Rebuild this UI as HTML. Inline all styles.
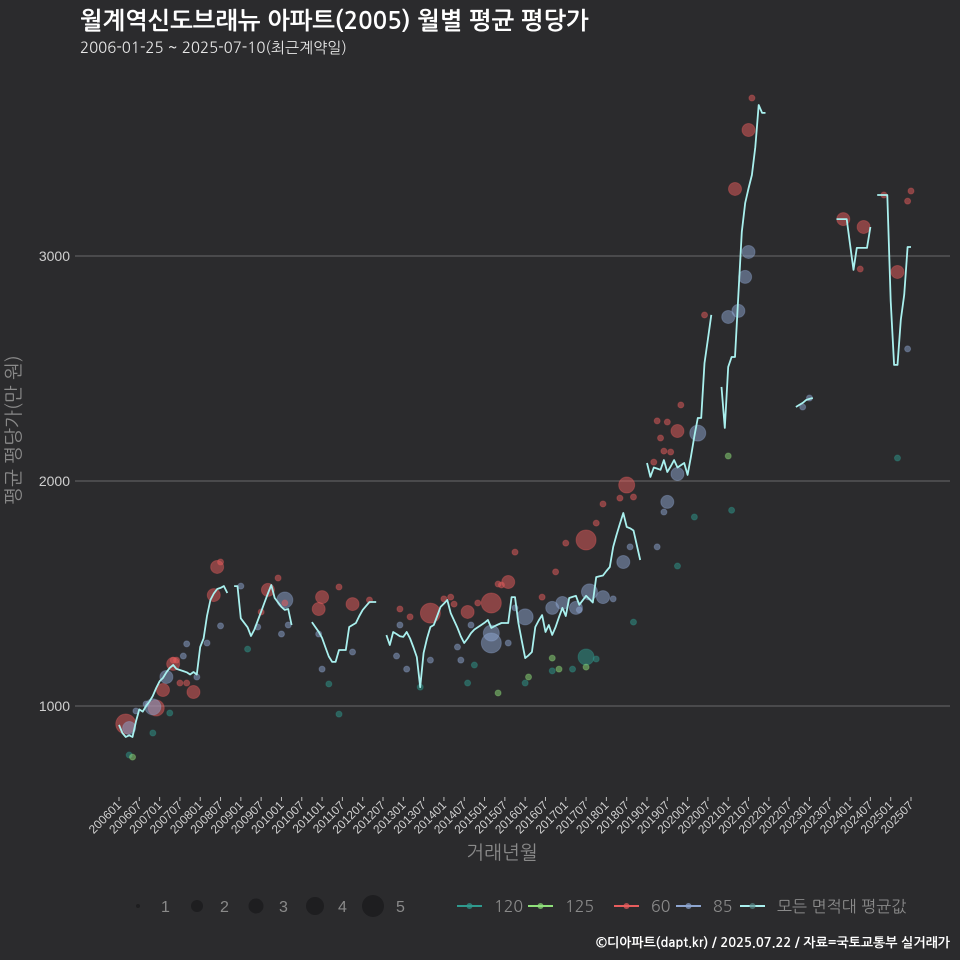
<!DOCTYPE html>
<html><head><meta charset="utf-8"><style>
html,body{margin:0;padding:0;background:#2b2b2d;}
svg{display:block;font-family:"Liberation Sans","NanumGothic","Noto Sans CJK KR",sans-serif;}
.kr{font-family:"NanumGothic","Noto Sans CJK KR","Liberation Sans",sans-serif;}
</style></head><body>
<svg id="chart" width="960" height="960" viewBox="0 0 960 960">
<rect x="0" y="0" width="960" height="960" fill="#2b2b2d"/>
<text class="kr" x="80" y="29" fill="#ffffff" font-size="24" font-weight="bold">월계역신도브래뉴 아파트(2005) 월별 평균 평당가</text>
<text class="kr" x="80" y="53" fill="#e8e8e8" font-size="15">2006-01-25 ~ 2025-07-10(최근계약일)</text>
<g id="grid"></g>
<g id="points"></g>
<g id="lines"></g>
<g id="xaxis"></g>
<text class="kr" x="20" y="430" fill="#8a8a8a" font-size="19" text-anchor="middle" transform="rotate(-90 20 430)">평균 평당가(만 원)</text>
<text class="kr" x="502" y="859" fill="#8a8a8a" font-size="19" text-anchor="middle">거래년월</text>
<g id="legend"></g>
<text class="kr" x="950" y="947" fill="#ffffff" font-size="13" font-weight="bold" text-anchor="end">©디아파트(dapt.kr) / 2025.07.22 / 자료=국토교통부 실거래가</text>
</svg>
<script>
const yTicks = [1000, 2000, 3000];
const avgValues = [916,880,862,870,862,930,985,975,1000,1020,1045,1080,1110,1125,1150,1170,1182,1165,1160,1155,1150,1140,1151,1140,1262,1300,1400,1471,1500,1520,1525,1533,1502,null,
1533,1533,1390,1370,1350,1311,1340,1380,1420,1460,1500,1538,1480,1460,1440,1427,1431,1360,null,null,null,null,null,
1373,1351,1330,1302,1260,1220,1196,1196,1249,1249,1249,1351,1360,1369,1400,1427,1445,1462,1462,1462,null,null,
1315,1271,1329,1320,1310,1307,1329,1300,1260,1218,1084,1236,1300,1351,1360,1400,1440,1455,1471,1413,1380,1347,1310,1280,1300,1324,1340,1350,1360,1370,1382,1347,1355,1362,1369,1369,1369,1484,1484,1369,1290,1213,1225,1240,1351,1380,1404,1329,1360,1316,1351,1395,1436,1400,1480,1485,1490,1450,1470,1490,1475,1460,1573,1577,1580,1600,1618,1707,1760,1810,1858,1796,1790,1780,1715,1649,null,
2080,2018,2060,2055,2050,2093,2040,2065,2093,2060,2070,2080,2027,2110,2200,2280,2280,2524,2630,2738,null,null,
2418,2236,2507,2551,2551,2830,3107,3236,3300,3360,3484,3671,3636,3636,null,null,null,null,null,null,null,null,
2329,2338,2347,2360,2365,2369,null,null,null,null,null,null,
3164,3164,3164,3164,3050,2938,3036,3036,3036,3036,3129,null,
3271,3271,3271,3271,2800,2516,2516,2716,2827,3040,3040];
const pointMonths = [2,11,13,16,22,29,28,44,60,59,69,92,103,110,115,138,150,165,182,186,214,220,230,
47,65,83,86,18,20,30,49,42,16,17,74,117,129,125,132,141,143,96,98,99,106,112,113,159,162,160,161,163,158,226,187,173,166,219,233,234,148,152,
49,14,10,3,110,110,120,128,131,135,139,143,149,162,171,165,186,185,183,180,
5,8,19,20,26,30,36,41,48,50,23,60,69,59,82,85,83,92,101,100,104,115,117,136,146,151,159,161,233,202,204,
3,10,15,38,62,65,89,103,105,120,128,134,138,141,152,165,230,170,181,
4,112,121,128,130,138,180];
const pointValues = [920,991,1071,1187,1062,1618,1493,1516,1484,1431,1453,1413,1418,1458,1551,1738,1982,2222,3298,3560,3164,3129,2929,
1569,1529,1431,1396,1102,1102,1640,1458,1418,1204,1204,1471,1684,1596,1484,1724,1813,1898,1476,1484,1453,1458,1542,1538,2267,2262,2191,2133,2129,2084,3271,3702,2738,2338,2942,3244,3289,1924,1929,
1471,1129,996,902,1324,1280,1396,1436,1458,1436,1507,1484,1640,1907,2213,2031,3018,2907,2756,2729,
978,1009,1222,1276,1280,1356,1533,1351,1320,1360,1129,1164,1240,1320,1222,1164,1360,1204,1204,1262,1360,1280,1436,1427,1476,1707,1707,1862,2587,2329,2369,
782,880,969,1253,1098,964,1084,1102,1182,1102,1156,1164,1218,1209,1373,1622,2102,1840,1870,
773,1058,1129,1213,1164,1173,2111];
const pointSizes = [5,4,3,3,3,3,3,3,3,3,3,5,3,5,3,5,4,3,3,3,3,3,3,
1,1,1,1,1,1,1,1,1,1,1,1,1,1,1,1,1,1,1,1,1,1,1,1,1,1,1,1,1,1,1,1,1,1,1,1,1,1,1,
4,3,4,3,4,5,4,3,3,3,4,3,3,3,4,3,3,3,3,3,
1,1,1,1,1,1,1,1,1,1,1,1,1,1,1,1,1,1,1,1,1,1,1,1,1,1,1,1,1,1,1,
1,1,1,1,1,1,1,1,1,1,1,1,4,1,1,1,1,1,1,
1,1,1,1,1,1,1];
const pointTypes = [].concat(Array(23).fill('60'),Array(39).fill('60'),Array(20).fill('85'),Array(31).fill('85'),Array(19).fill('120'),Array(7).fill('125'));
const legendSizes = [1,2,3,4,5];
const legendTypes = ['120','125','60','85','모든 면적대 평균값'];

const NS='http://www.w3.org/2000/svg';
const x0=119, xPerMonth=792/234;
function xScale(m){return x0+m*xPerMonth;}
function yScale(v){return 706-(v-1000)*0.225;}
function rScale(s){return [0,3,5,6.5,8,10][s];}
const colors={'120':'#2f9a8e','125':'#8fe07a','60':'#e85d5d','85':'#8ea6d0','모든 면적대 평균값':'#a9f0ee'};
function el(tag,attrs,parent){const e=document.createElementNS(NS,tag);for(const k in attrs)e.setAttribute(k,attrs[k]);parent.appendChild(e);return e;}

const grid=document.getElementById('grid');
yTicks.forEach(t=>{
  const l=el('line',{x1:75,x2:950,y1:yScale(t),y2:yScale(t),stroke:'#6a6a6a','stroke-width':1},grid);
  
  
  const tx=el('text',{x:70,y:yScale(t)+5,fill:'#cfcfcf','font-size':14,'text-anchor':'end'},grid);
  tx.textContent=t;
  
  
});

const xa=document.getElementById('xaxis');
for(let i=0;i<40;i++){
  const m=i*6, x=xScale(m);
  const yr=2006+Math.floor(m/12), mo=(m%12)+1;
  const lab=''+yr+(mo<10?'0':'')+mo;
  const tk=el('line',{x1:x,x2:x,y1:797,y2:801,stroke:'#bbb','stroke-width':1},xa);
  
  
  const tx=el('text',{x:x+3,y:806,fill:'#d0d0d0','font-size':12,'text-anchor':'end',transform:`rotate(-45 ${x+3} 806)`},xa);
  tx.textContent=lab;
  
  
}

const pg=document.getElementById('points');
const order=pointMonths.map((m,i)=>i).sort((a,b)=>pointSizes[b]-pointSizes[a]);
order.forEach(i=>{
  const c=colors[pointTypes[i]];
  const p=el('circle',{cx:xScale(pointMonths[i]),cy:yScale(pointValues[i]),r:rScale(pointSizes[i]),fill:c,'fill-opacity':0.5,stroke:c,'stroke-opacity':0.35},pg);
  
  
});

const lg=document.getElementById('lines');
let seg=[];
function flush(){
  if(seg.length>1){
    const pl=el('polyline',{points:seg.join(' '),fill:'none',stroke:'#a9f0ee','stroke-width':1.8,'stroke-linejoin':'round'},lg);
    
    
  }
  seg=[];
}
avgValues.forEach((v,m)=>{ if(v==null){flush();} else seg.push(xScale(m).toFixed(1)+','+yScale(v).toFixed(1)); });
flush();

const leg=document.getElementById('legend');
const lsx=[138,197,256,315,373];
legendSizes.forEach((s,i)=>{
  const c=el('circle',{cx:lsx[i],cy:906,r:s===1?2:rScale(s)+1,fill:'#1e1e20'},leg);
  
  
  const t=el('text',{x:lsx[i]+23,y:912,fill:'#8a8a8a','font-size':16},leg);
  t.textContent=s;
  
  
});
const ltx=[457,528,614,676,740];
legendTypes.forEach((k,i)=>{
  const x=ltx[i];
  const l=el('line',{x1:x,x2:x+25,y1:906,y2:906,stroke:colors[k],'stroke-width':2},leg);
  
  
  const d=el('circle',{cx:x+12.5,cy:906,r:3,fill:k==='모든 면적대 평균값'?'#5a8a8a':colors[k],'fill-opacity':0.7},leg);
  
  
  const t=el('text',{x:x+37,y:912,fill:'#8a8a8a','font-size':16,'class':'kr'},leg);
  t.textContent=k;
  
  
});
</script>
</body></html>
